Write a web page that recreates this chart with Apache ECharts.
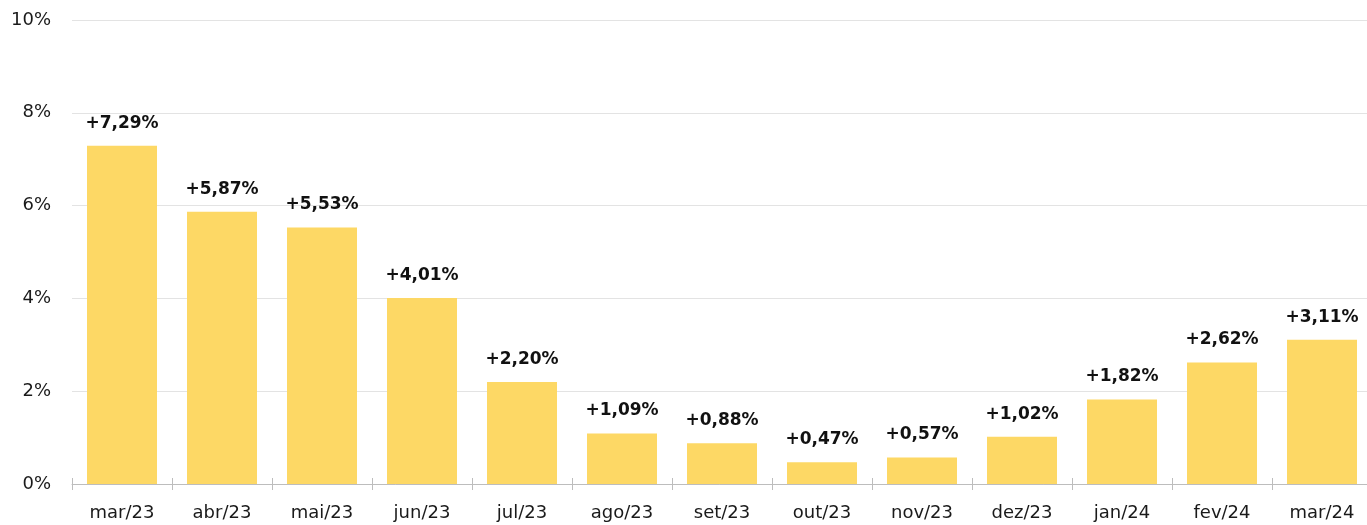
<!DOCTYPE html>
<html>
<head>
<meta charset="utf-8">
<script src="https://cdn.jsdelivr.net/npm/echarts@6/dist/echarts.min.js"></script>
<style>
	html, body { margin: 0; padding: 0; background: #fff; }
	#chart { width: 1367px; height: 525px; }
</style>
</head>
<body>
<div id="chart"></div>
<script>
// categorias (mês/ano)
const months = ['mar/23', 'abr/23', 'mai/23', 'jun/23', 'jul/23', 'ago/23', 'set/23', 'out/23', 'nov/23', 'dez/23', 'jan/24', 'fev/24', 'mar/24']
// variação em %
const values = [7.29, 5.87, 5.53, 4.01, 2.2, 1.09, 0.88, 0.47, 0.57, 1.02, 1.82, 2.62, 3.11]
const yMin = 0
const yMax = 10
const yStep = 2

const fontFamily = '"DejaVu Sans", sans-serif'

const initChart = () => {
	const chartDom = document.getElementById('chart')
	const myChart = echarts.init(chartDom)
	const options = {
		animation: false,
		grid: {
			top: 20,
			left: 72,
			width: 1300,
			bottom: 41,
			outerBoundsMode: 'none'
		},
		xAxis: [
			{
				type: 'category',
				data: months,
				axisLine: {
					lineStyle: { color: '#bdbdbd', width: 1 }
				},
				axisTick: {
					show: true,
					length: 6,
					lineStyle: { color: '#bdbdbd' }
				},
				axisLabel: {
					color: '#1a1a1a',
					fontSize: 18,
					fontFamily: fontFamily,
					margin: 20,
					interval: 0
				}
			},
			{
				// só os ticks para dentro (cruzam a linha do eixo)
				type: 'category',
				data: months,
				position: 'bottom',
				axisLine: { show: false },
				axisLabel: { show: false },
				axisTick: {
					show: true,
					inside: true,
					length: 6,
					lineStyle: { color: '#bdbdbd' }
				}
			}
		],
		yAxis: {
			type: 'value',
			min: yMin,
			max: yMax,
			interval: yStep,
			axisLine: { show: false },
			axisTick: { show: false },
			axisLabel: {
				color: '#1a1a1a',
				fontSize: 18,
				fontFamily: fontFamily,
				margin: 21,
				padding: [3, 0, 0, 0],
				formatter: v => v + '%'
			},
			splitLine: {
				lineStyle: { color: '#e3e3e3', width: 1 }
			}
		},
		series: [
			{
				type: 'bar',
				data: values,
				barWidth: '70%',
				itemStyle: { color: '#fdd865' },
				label: {
					show: true,
					position: 'top',
					distance: 14,
					color: '#111',
					fontSize: 17,
					fontWeight: 'bold',
					fontFamily: fontFamily,
					formatter: p => '+' + p.value.toFixed(2).replace('.', ',') + '%'
				}
			}
		]
	}
	myChart.setOption(options)
	return myChart
}
initChart()
</script>
</body>
</html>
